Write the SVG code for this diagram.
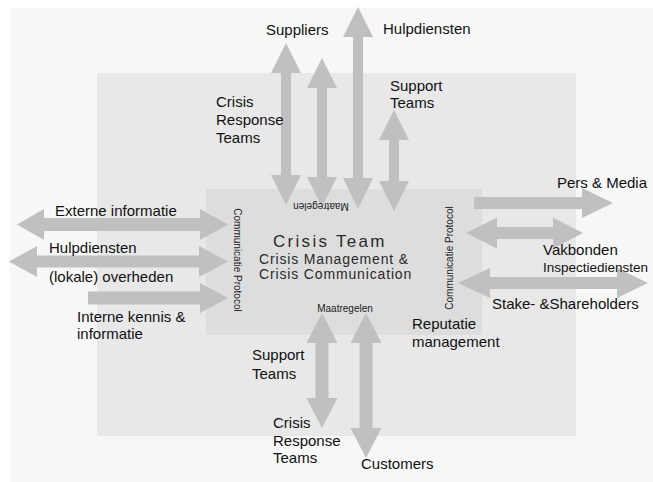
<svg xmlns="http://www.w3.org/2000/svg" width="653" height="482" viewBox="0 0 653 482">
<style>
.lbl{font-family:"Liberation Sans",Arial,sans-serif;font-size:15px;fill:#111}
.sm{font-family:"Liberation Sans",Arial,sans-serif;font-size:10px;fill:#222}
.ttl{font-family:"Liberation Sans",Arial,sans-serif;fill:#2a2a2a}
.arr{fill:#c0c0c0}
</style>
<rect x="0" y="0" width="653" height="482" fill="#ffffff"/>
<rect x="10" y="8" width="643" height="474" fill="#f7f7f7"/>
<rect x="97" y="73" width="479" height="363" fill="#e8e8e8"/>
<g id="crisis-team">
<rect x="206" y="189" width="276" height="146" fill="#dddddd"/>
</g>
<g id="connectors">
<polygon class="arr" points="286,43 301,73 291,73 291,175 301,175 286,205 271,175 281,175 281,73 271,73"/>
<polygon class="arr" points="322,58 337,88 327,88 327,177 337,177 322,207 307,177 317,177 317,88 307,88"/>
<polygon class="arr" points="358,7 373,37 363,37 363,178 373,178 358,209 343,178 353,178 353,37 343,37"/>
<polygon class="arr" points="394,110 409,140 399,140 399,181 409,181 394,211 379,181 389,181 389,140 379,140"/>
<polygon class="arr" points="322,313 337.5,343 328.5,343 328.5,398 337.5,398 322,428 306.5,398 315.5,398 315.5,343 306.5,343"/>
<polygon class="arr" points="366,313 381.5,343 372.5,343 372.5,428 381.5,428 366,458 350.5,428 359.5,428 359.5,343 350.5,343"/>
<polygon class="arr" points="17,224.5 44,209 44,218 200,218 200,209 228,224.5 200,240 200,231 44,231 44,240"/>
<polygon class="arr" points="9,261.5 37,246 37,255.5 199,255.5 199,246 228,261.5 199,277 199,267.5 37,267.5 37,277"/>
<polygon class="arr" points="88,291.5 200,291.5 200,283 228,298 200,313 200,304.5 88,304.5"/>
<polygon class="arr" points="474,197 582,197 582,188 613,203 582,218 582,209 474,209"/>
<polygon class="arr" points="466,233 497,217.5 497,227 553,227 553,217.5 583,233 553,248.5 553,239 497,239 497,248.5"/>
<polygon class="arr" points="458,283 490,268 490,277 617,277 617,268 648,283 617,298 617,289 490,289 490,298"/>
</g>
<g id="crisis-team-text">
<text class="ttl" x="273" y="247" font-size="17" letter-spacing="2.3">Crisis Team</text>
<text class="ttl" x="259" y="264" font-size="14" letter-spacing="0.85">Crisis Management &amp;</text>
<text class="ttl" x="259" y="279" font-size="14" letter-spacing="0.85">Crisis Communication</text>
<text class="sm" transform="translate(234,260) rotate(90)" text-anchor="middle">Communicatie Protocol</text>
<text class="sm" transform="translate(453,258) rotate(-90)" text-anchor="middle">Communicatie Protocol</text>
<text class="sm" transform="translate(321,203) rotate(180)" text-anchor="middle">Maatregelen</text>
<text class="sm" x="345" y="312" text-anchor="middle">Maatregelen</text>
</g>
<g id="suppliers"><text class="lbl" x="266" y="35">Suppliers</text></g>
<g id="hulpdiensten-top"><text class="lbl" x="383" y="34">Hulpdiensten</text></g>
<g id="crisis-response-top"><text class="lbl" x="216" y="107">Crisis</text><text class="lbl" x="216" y="125">Response</text><text class="lbl" x="216" y="143">Teams</text></g>
<g id="support-top"><text class="lbl" x="390" y="91">Support</text><text class="lbl" x="390" y="108">Teams</text></g>
<g id="externe"><text class="lbl" x="55" y="216">Externe informatie</text></g>
<g id="hulpdiensten-left"><text class="lbl" x="49" y="253">Hulpdiensten</text></g>
<g id="overheden"><text class="lbl" x="49" y="282">(lokale) overheden</text></g>
<g id="interne"><text class="lbl" x="77" y="322">Interne kennis &amp;</text><text class="lbl" x="77" y="339">informatie</text></g>
<g id="pers"><text class="lbl" x="557" y="188">Pers &amp; Media</text></g>
<g id="vakbonden"><text class="lbl" x="543" y="255">Vakbonden</text><text class="lbl" x="543" y="272" font-size="13.5px" style="font-size:13.5px">Inspectiediensten</text></g>
<g id="stake"><text class="lbl" x="492" y="309">Stake- &amp;Shareholders</text></g>
<g id="reputatie"><text class="lbl" x="412" y="329">Reputatie</text><text class="lbl" x="412" y="347">management</text></g>
<g id="support-bottom"><text class="lbl" x="252" y="360">Support</text><text class="lbl" x="252" y="379">Teams</text></g>
<g id="crisis-response-bottom"><text class="lbl" x="273" y="428">Crisis</text><text class="lbl" x="273" y="446">Response</text><text class="lbl" x="273" y="463">Teams</text></g>
<g id="customers"><text class="lbl" x="361" y="469">Customers</text></g>
</svg>
